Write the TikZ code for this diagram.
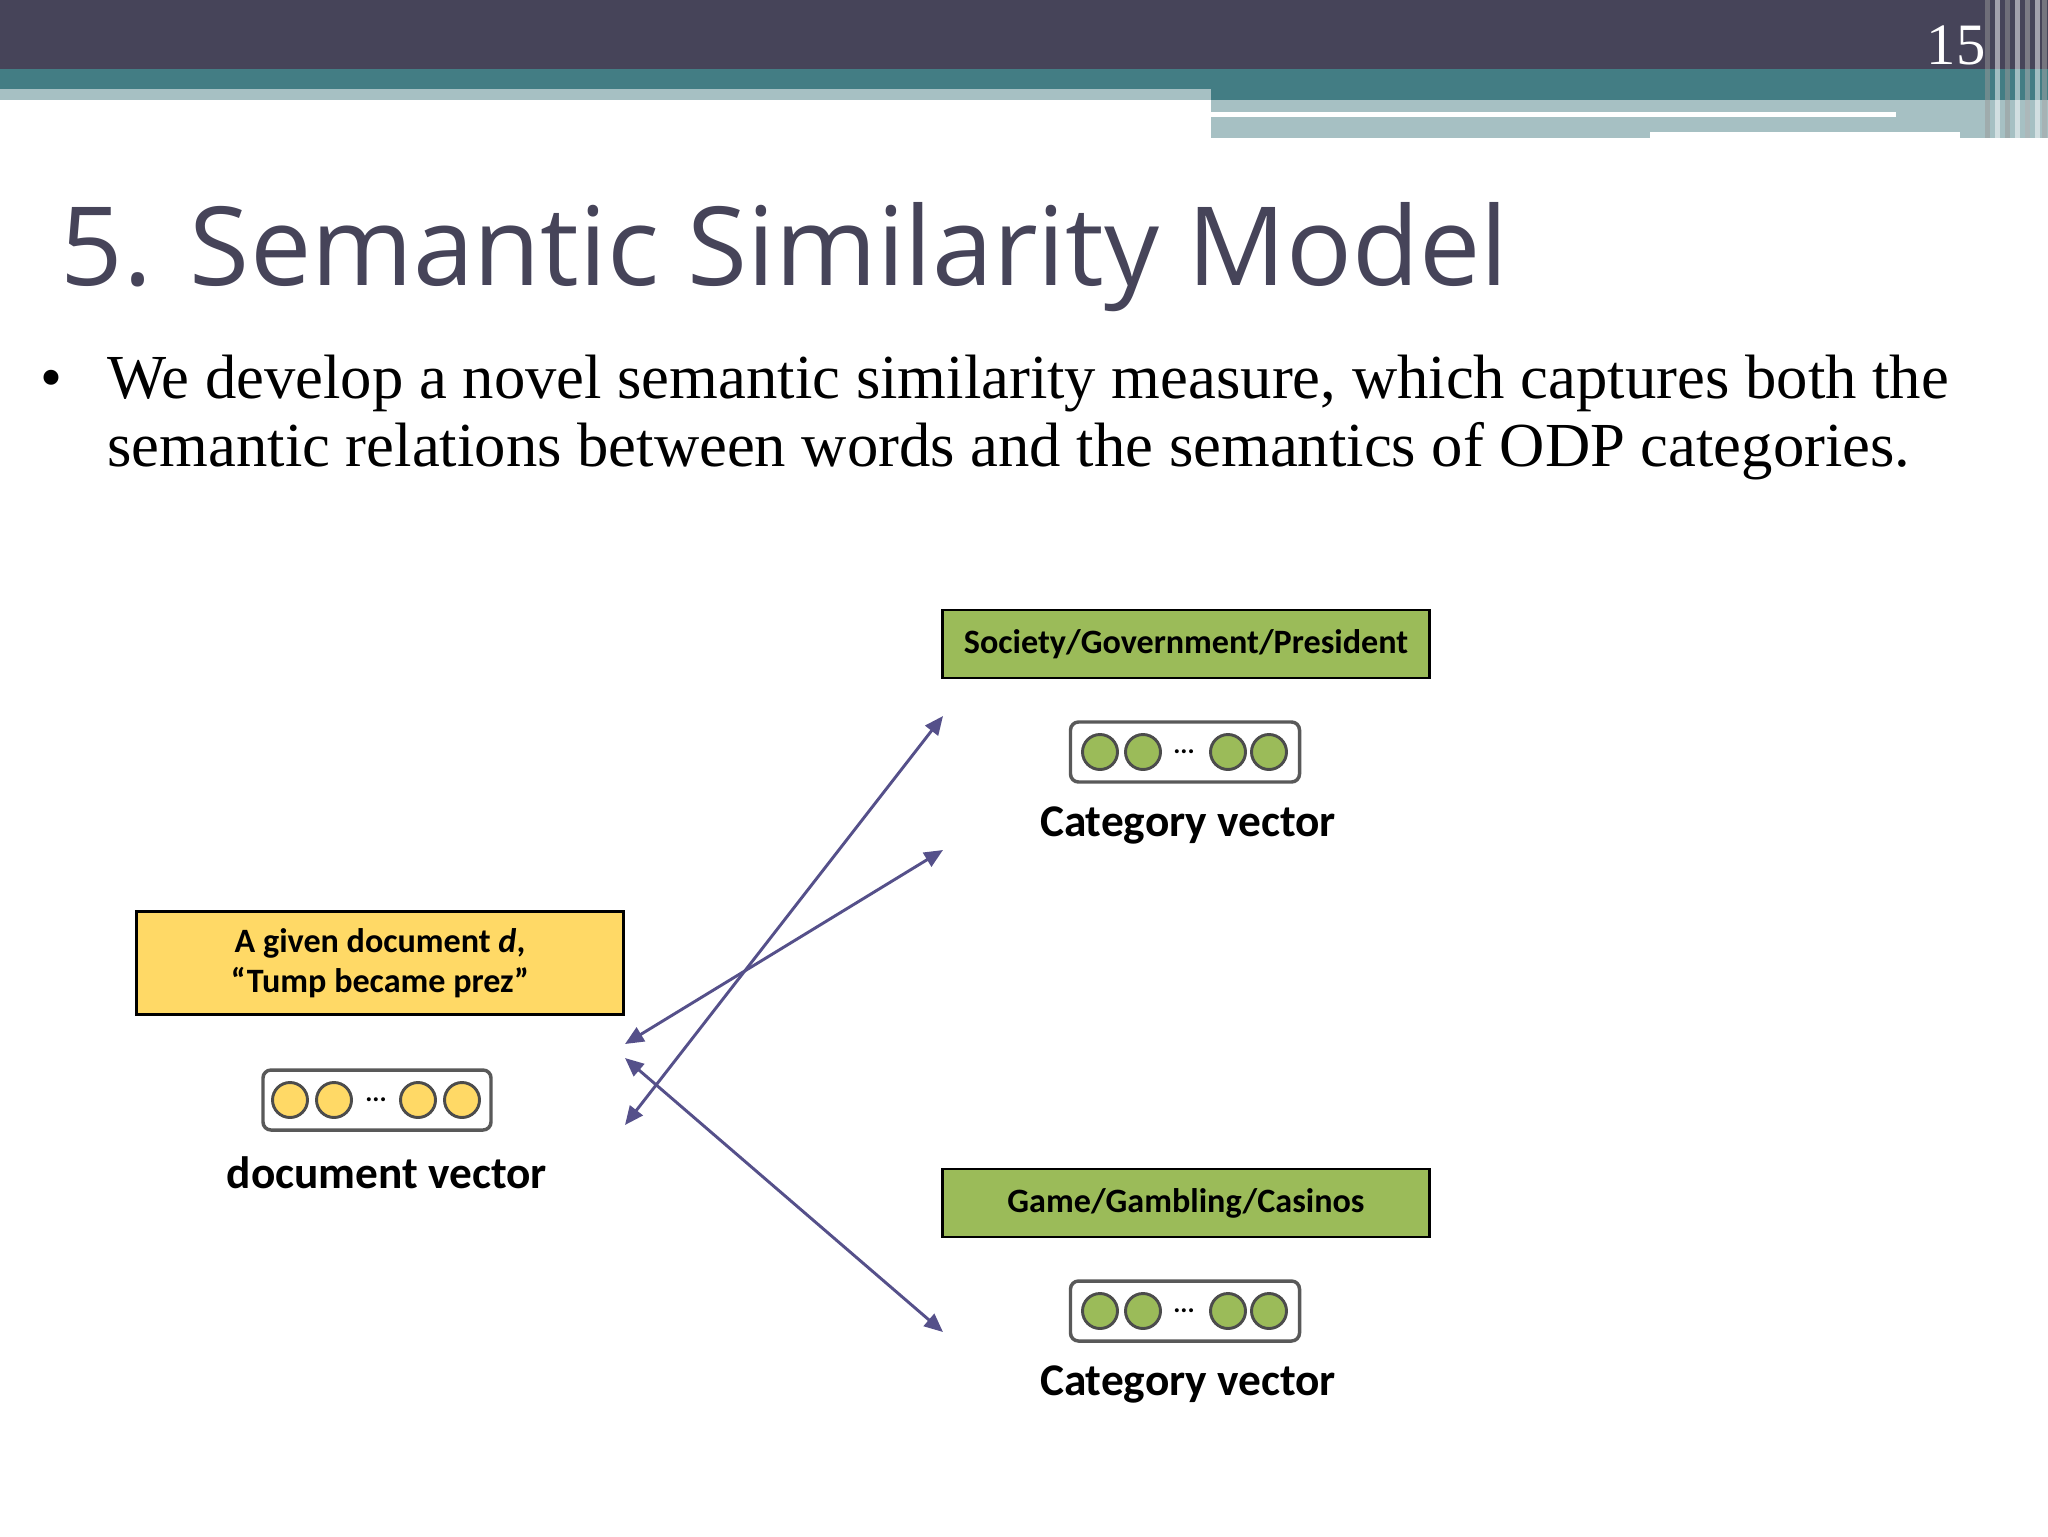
\documentclass[tikz,border=0pt]{standalone}
\usepackage{fontspec}
\setmainfont{Liberation Serif}
\newfontfamily\titlefont{Open Sans}
\newfontfamily\boxfont{Carlito}
\usetikzlibrary{arrows.meta}
\definecolor{hdark}{HTML}{464459}
\definecolor{hteal}{HTML}{437D84}
\definecolor{hlight}{HTML}{A6C0C3}
\definecolor{ylw}{HTML}{FFD966}
\definecolor{grn}{HTML}{9BBB59}
\definecolor{arr}{HTML}{55508A}
\begin{document}
\begin{tikzpicture}[x=0.375pt,y=-0.375pt,
  lbl/.style={draw=black,line width=1.1pt,inner sep=0pt,minimum width=487*0.375pt,font=\boxfont\bfseries\fontsize{12.8pt}{15pt}\selectfont,align=center},
  pill/.style={draw=black!65,line width=1.3pt,rounded corners=3pt,fill=white},
  dot/.style={circle,draw=black!70,line width=1.1pt,minimum size=35*0.375pt,inner sep=0pt},
  vcap/.style={font=\boxfont\bfseries\fontsize{17pt}{20pt}\selectfont},
  body/.style={anchor=base west,inner sep=0pt,font=\fontsize{23.5pt}{28pt}\selectfont},
  link/.style={draw=arr,line width=1.1pt,{Triangle[length=7pt,width=6pt]}-{Triangle[length=7pt,width=6pt]}}]
\useasboundingbox (0,0) rectangle (2048,1536);
\fill[white] (0,0) rectangle (2048,1536);
% header
\fill[hdark] (0,0) rectangle (2048,69);
\fill[hteal] (0,69) rectangle (2048,100);
\fill[hlight] (0,89) rectangle (1211,100);
\fill[hlight] (1211,100) rectangle (2048,138);
\fill[white] (1211,112) rectangle (1896,117);
\fill[white] (1650,132) rectangle (1960,138);
\foreach \xx/\cc in {1985/black!40,1995/white,2005/black!40,2015/white,2025/black!30,2035/white,2042/black!35}
  \fill[\cc,opacity=0.5] (\xx,0) rectangle (\xx+5,138);
\node[text=white,font=\fontsize{22pt}{24pt}\selectfont,anchor=base] (num) at (1956,64) {15};
% title
\node[anchor=base west,inner sep=0pt,text=hdark,font=\titlefont\fontsize{41pt}{48pt}\selectfont] (title) at (60,285) {5. Semantic Similarity Model};
% bullet
\node[body] (bul) at (40,398) {•};
\node[body] (l1) at (107,398) {We develop a novel semantic similarity measure, which captures both the};
\node[body] (l2) at (107,466) {semantic relations between words and the semantics of ODP categories.};
% category 1
\node[lbl,fill=grn,minimum height=68*0.375pt] (c1) at (1186,644) {Society/Government/President};
\node[pill,minimum width=229*0.375pt,minimum height=60*0.375pt] (p1) at (1185,752) {};
\foreach \xx in {1100,1143,1228,1269} \node[dot,fill=grn] at (\xx,752) {};
\node[font=\boxfont\bfseries] at (1184,752) {...};
\node[vcap] (cv1) at (1188,825) {Category vector};
% category 2
\node[lbl,fill=grn,minimum height=68*0.375pt] (c2) at (1186,1203) {Game/Gambling/Casinos};
\node[pill,minimum width=229*0.375pt,minimum height=60*0.375pt] (p2) at (1185,1311) {};
\foreach \xx in {1100,1143,1228,1269} \node[dot,fill=grn] at (\xx,1311) {};
\node[font=\boxfont\bfseries] at (1184,1311) {...};
\node[vcap] (cv2) at (1188,1384) {Category vector};
% document
\node[lbl,fill=ylw,minimum height=103*0.375pt] (doc) at (380,963) {A given document \textit{d},\\“Tump became prez”};
\node[pill,minimum width=228*0.375pt,minimum height=60*0.375pt] (pd) at (377,1100) {};
\foreach \xx in {290,334,418,462} \node[dot,fill=ylw] at (\xx,1100) {};
\node[font=\boxfont\bfseries] at (376,1100) {...};
\node[vcap] (dv) at (387,1173) {document vector};
% arrows
\coordinate (a1) at (625,1125); \coordinate (b1) at (943,716);
\coordinate (a2) at (625,1044); \coordinate (b2) at (943,850);
\coordinate (a3) at (625,1058); \coordinate (b3) at (943,1332);
\draw[link] (a1) -- (b1);
\draw[link] (a2) -- (b2);
\draw[link] (a3) -- (b3);
\end{tikzpicture}
\end{document}
